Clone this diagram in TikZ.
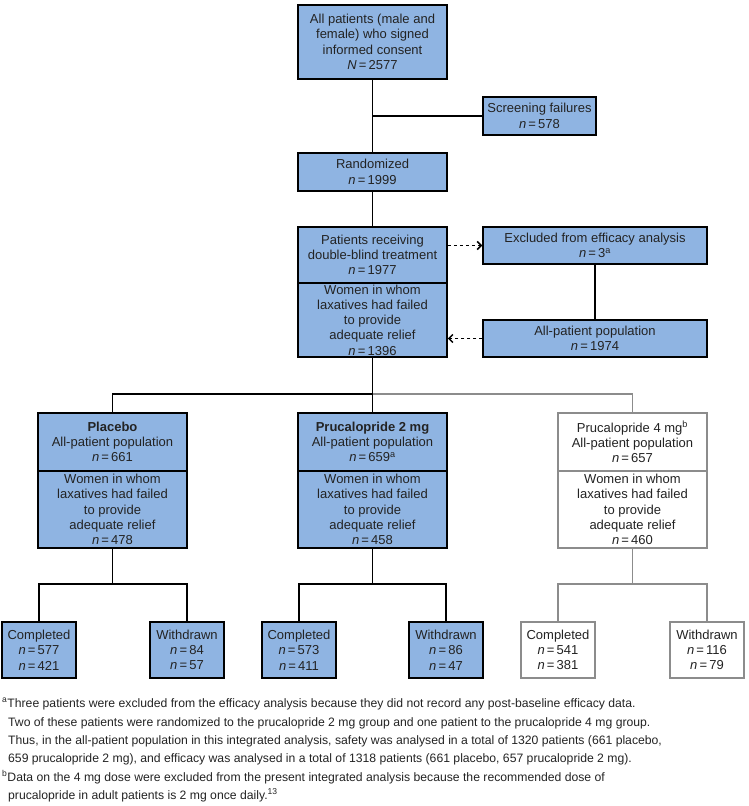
\documentclass[tikz,border=0pt]{standalone}
\usepackage{fontspec}
\setmainfont{Liberation Sans}
\usetikzlibrary{arrows.meta}
\definecolor{boxblue}{RGB}{143,180,226}
\definecolor{greyline}{RGB}{140,140,140}
\definecolor{txt}{RGB}{35,35,35}
\begin{document}
\begin{tikzpicture}[x=1pt,y=-1pt,
  bx/.style={draw=black, line width=1.5pt, fill=boxblue, inner sep=0pt, align=center,
             font=\fontsize{13}{15.3}\selectfont, text=txt},
  gbx/.style={bx, draw=greyline, fill=white},
  wide/.style={minimum width=149pt},
  small/.style={minimum width=74pt, minimum height=56pt},
  ln/.style={line width=1.5pt},
  gln/.style={line width=1.5pt, draw=greyline},
  dar/.style={line width=1.5pt, dash pattern=on 3.5pt off 2.5pt, -{Straight Barb[length=4pt,width=8pt]}},
  fn/.style={anchor=base west, inner sep=0pt, font=\fontsize{12.2}{14}\selectfont, text=txt},
]
\useasboundingbox (0,0) rectangle (748,806);
\newcommand{\nn}{\textit{n}\,=\,}
% main column
\node[bx, wide, minimum height=74pt] (top) at (372.5,42) {All patients (male and\\female) who signed\\informed consent\\\textit{N}\,=\,2577};
\node[bx, minimum width=113pt, minimum height=38pt] (screen) at (539.5,116) {Screening failures\\\nn 578};
\node[bx, wide, minimum height=38pt] (rand) at (372.5,172) {Randomized\\\nn 1999};
\node[bx, wide, minimum height=56pt] (recv) at (372.5,255) {Patients receiving\\double-blind treatment\\\nn 1977};
\node[bx, wide, minimum height=74pt] (women) at (372.5,320) {Women in whom\\laxatives had failed\\to provide\\adequate relief\\\nn 1396};
\node[bx, minimum width=224pt, minimum height=37pt] (excl) at (595,245.5) {Excluded from efficacy analysis\\\nn 3\textsuperscript{a}};
\node[bx, minimum width=224pt, minimum height=37pt] (allpat) at (595,338.5) {All-patient population\\\nn 1974};
% arms
\node[bx, wide, minimum height=58pt] (plA) at (112.5,442) {\textbf{Placebo}\\All-patient population\\\nn 661};
\node[bx, wide, minimum height=77pt] (plB) at (112.5,509.5) {Women in whom\\laxatives had failed\\to provide\\adequate relief\\\nn 478};
\node[bx, wide, minimum height=58pt] (p2A) at (372.5,442) {\textbf{Prucalopride 2 mg}\\All-patient population\\\nn 659\textsuperscript{a}};
\node[bx, wide, minimum height=77pt] (p2B) at (372.5,509.5) {Women in whom\\laxatives had failed\\to provide\\adequate relief\\\nn 458};
\node[gbx, wide, minimum height=58pt] (p4A) at (632.5,442) {Prucalopride 4 mg\textsuperscript{b}\\All-patient population\\\nn 657};
\node[gbx, wide, minimum height=77pt] (p4B) at (632.5,509.5) {Women in whom\\laxatives had failed\\to provide\\adequate relief\\\nn 460};
% outcome boxes
\node[bx, small] (c1) at (39,650) {Completed\\\nn 577\\\nn 421};
\node[bx, small] (w1) at (187,650) {Withdrawn\\\nn 84\\\nn 57};
\node[bx, small] (c2) at (299,650) {Completed\\\nn 573\\\nn 411};
\node[bx, small] (w2) at (446,650) {Withdrawn\\\nn 86\\\nn 47};
\node[gbx, small] (c3) at (558,650) {Completed\\\nn 541\\\nn 381};
\node[gbx, small] (w3) at (707,650) {Withdrawn\\\nn 116\\\nn 79};
% connectors
\draw[ln] (top) -- (rand);
\draw[ln] (top.south |- screen.west) -- (screen.west);
\draw[ln] (rand) -- (recv);
\draw[dar] (recv.east |- excl.west) -- (excl.west);
\draw[ln] (excl) -- (allpat);
\draw[dar] (allpat.west) -- (allpat.west -| women.east);
\coordinate (br) at (372.5,394);
\draw[gln] (br) -| (p4A.north);
\draw[ln] (women.south) -- (br);
\draw[ln] (br) -| (plA.north);
\draw[ln] (br) -- (p2A.north);
\coordinate (k1) at (112.5,584);
\coordinate (k2) at (372.5,584);
\coordinate (k3) at (632.5,584);
\draw[ln] (plB.south) -- (k1);
\draw[ln] (c1.north) |- (k1) -| (w1.north);
\draw[ln] (p2B.south) -- (k2);
\draw[ln] (c2.north) |- (k2) -| (w2.north);
\draw[gln] (p4B.south) -- (k3);
\draw[gln] (c3.north) |- (k3) -| (w3.north);
% footnotes
\node[fn] (fa1) at (2,707) {\textsuperscript{a}Three patients were excluded from the efficacy analysis because they did not record any post-baseline efficacy data.};
\node[fn] (fa2) at (8,726) {Two of these patients were randomized to the prucalopride 2 mg group and one patient to the prucalopride 4 mg group.};
\node[fn] (fa3) at (8,744) {Thus, in the all-patient population in this integrated analysis, safety was analysed in a total of 1320 patients (661 placebo,};
\node[fn] (fa4) at (8,762) {659 prucalopride 2 mg), and efficacy was analysed in a total of 1318 patients (661 placebo, 657 prucalopride 2 mg).};
\node[fn] (fb1) at (2,781) {\textsuperscript{b}Data on the 4 mg dose were excluded from the present integrated analysis because the recommended dose of};
\node[fn] (fb2) at (8,799) {prucalopride in adult patients is 2 mg once daily.\textsuperscript{13}};
\end{tikzpicture}
\end{document}
